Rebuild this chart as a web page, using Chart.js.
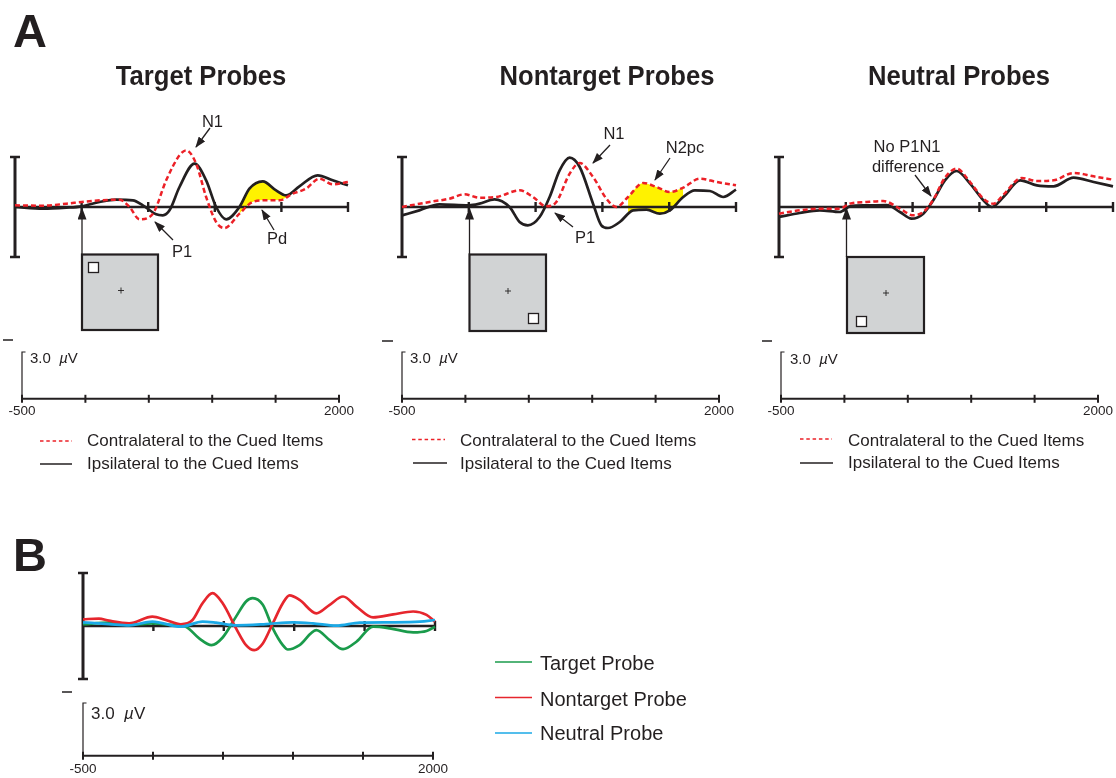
<!DOCTYPE html>
<html><head><meta charset="utf-8">
<script src="https://cdn.jsdelivr.net/npm/chart.js@4.4.1/dist/chart.umd.min.js"></script>
<style>
html,body{margin:0;padding:0;background:#fff;}
#fig{position:relative;width:1116px;height:778px;overflow:hidden;background:#fff;font-family:"Liberation Sans",Arial,Helvetica,sans-serif;color:#231f20;}
canvas{position:absolute;}
.t{position:absolute;white-space:nowrap;}
#ov{position:absolute;left:0;top:0;z-index:2;}
</style></head><body><div id="fig"></div>
<script>
// ---------------- DATA ----------------
const timeTicks = [-500, 0, 500, 1000, 1500, 2000];
const lowerTickLabels = ['-500', '', '', '', '', '2000'];
const barRange = [-3, 3];          // µV vertical scale bar
const scaleBarRange = [0, 3];      // "3.0 µV" calibration bar

// Target probes
const targetIpsiTime = [-500,-290,-115,0,135,260,385,460,560,610,660,735,848,935,1010,1085,1185,1260,1360,1460,1535,1635,1772,1885,2000];
const targetIpsi     = [0,-0.1,-0.04,0.04,0.3,0.44,0.4,0.1,-0.44,-0.5,-0.2,1.2,2.6,1.6,0,-0.74,0,1.1,1.54,1.0,0.7,1.24,1.9,1.6,1.3];
const targetContraTime = [-500,-290,-115,0,135,285,360,435,535,635,735,785,860,935,1010,1072,1185,1285,1385,1485,1585,1685,1785,1885,2000];
const targetContra     = [0.1,0.08,0.2,0.3,0.4,0.44,0,-0.74,-0.4,1.6,3.1,3.4,2.6,0.6,-0.9,-1.26,-0.4,0.3,0.4,0.4,0.8,1.1,1.7,1.36,1.5];
const pdWindow = [1185, 1545];

// Nontarget probes
const nontargetIpsiTime = [-500,-370,-220,0,80,192,305,380,442,530,605,680,755,830,930,992,1042,1130,1230,1330,1430,1505,1605,1692,1805,1905,2000];
const nontargetIpsi     = [-0.5,-0.2,0.16,0.1,0.2,0.46,0,-0.9,-1.1,-0.6,0.6,2.2,2.96,2.4,0.2,-1.1,-1.26,-0.9,-0.2,-0.16,-0.4,-0.2,0.6,1.0,0.96,0.6,1.04];
const nontargetContraTime = [-500,-295,-145,-32,80,205,380,480,580,655,755,830,930,1030,1105,1192,1305,1405,1505,1605,1730,1855,2000];
const nontargetContra     = [0,0.3,0.5,0.76,0.56,0.6,1.0,0.6,0.04,0.3,2.0,2.64,1.8,0.5,0,0.6,1.44,1.2,0.9,1.16,1.7,1.5,1.3];
const n2pcWindow = [1125, 1680];

// Neutral probes
const neutralIpsiTime = [-500,-345,-195,-45,30,155,305,405,492,580,655,742,830,930,1030,1092,1180,1305,1430,1555,1705,1855,2000];
const neutralIpsi     = [-0.6,-0.36,-0.2,-0.3,0.04,0.1,0.12,-0.3,-0.7,-0.4,0.4,1.6,2.16,1.4,0.4,0,0.6,1.6,1.3,1.24,1.76,1.5,1.24];
const neutralContraTime = [-500,-345,-195,-45,30,155,280,405,505,580,655,742,830,930,1030,1105,1180,1317,1430,1555,1705,1855,2000];
const neutralContra     = [-0.4,-0.2,-0.1,-0.1,0.2,0.3,0.36,-0.1,-0.5,-0.3,0.44,1.76,2.3,1.5,0.5,0.2,0.74,1.74,1.56,1.6,2.04,1.84,1.64];

// Panel B difference waves
const bTargetTime = [-500,-316,-173,-7,135,230,325,413,492,587,658,705,777,848,919,955,1038,1157,1252,1347,1442,1560,1679,1845,1940,2000];
const bTarget     = [0.1,0.19,0.06,0.15,0.06,-0.04,-0.7,-1.08,-0.65,0.53,1.39,1.58,1.2,-0.13,-1.08,-1.33,-1.08,-0.23,-0.8,-1.31,-0.89,-0.04,-0.13,-0.36,-0.28,-0.04];
const bNontargetTime = [-500,-387,-316,-173,-7,88,195,278,349,420,492,587,658,717,777,848,919,967,1038,1157,1252,1347,1442,1560,1703,1845,1940,2000];
const bNontarget     = [0.38,0.42,0.3,0.15,0.53,0.34,0.1,0.34,1.29,1.86,1.29,-0.13,-1.08,-1.37,-0.99,0.15,1.29,1.73,1.48,0.72,1.2,1.67,1.1,0.49,0.66,0.82,0.63,0.25];
const bNeutralTime = [-500,-316,-173,-7,195,349,444,587,800,990,1133,1299,1465,1703,1893,2000];
const bNeutral     = [0.21,0.11,0.04,0.25,-0.04,0.25,0.19,0.04,0.11,0.21,0.15,0.02,0.19,0.21,0.25,0.34];

const panelTitles = ['Target Probes', 'Nontarget Probes', 'Neutral Probes'];
const legendA = ['Contralateral to the Cued Items', 'Ipsilateral to the Cued Items'];
const legendB = ['Target Probe', 'Nontarget Probe', 'Neutral Probe'];

// ---------------- STYLE ----------------
const INK = '#231f20', RED = '#ec2027', YELLOW = '#fff200';
const GREEN = '#1a9b4b', BRED = '#e6262d', BLUE = '#1ba9e6';
const FONT = '"Liberation Sans", Arial, Helvetica, sans-serif';
const fig = document.getElementById('fig');

function pts(t, v) { return t.map((x, i) => ({x, y: v[i]})); }
function windowPts(t, v, w) { return pts(t, v).filter(p => p.x >= w[0] && p.x <= w[1]); }

const erpAxes = {
  id: 'erpAxes',
  drawAxes(chart, o) {
    const {ctx} = chart, x = chart.scales.x, y = chart.scales.y;
    ctx.save();
    ctx.strokeStyle = INK;
    const y0 = y.getPixelForValue(0);
    const xl = x.getPixelForValue(timeTicks[0]), xr = x.getPixelForValue(timeTicks[timeTicks.length - 1]);
    ctx.lineWidth = o.axisWidth;
    ctx.beginPath(); ctx.moveTo(xl, y0); ctx.lineTo(xr, y0); ctx.stroke();
    for (const t of timeTicks.slice(1)) {
      const px = x.getPixelForValue(t);
      ctx.beginPath(); ctx.moveTo(px, y0 - o.tick); ctx.lineTo(px, y0 + o.tick); ctx.stroke();
    }
    const yt = y.getPixelForValue(barRange[1]), yb = y.getPixelForValue(barRange[0]);
    ctx.lineWidth = o.barWidth;
    ctx.beginPath(); ctx.moveTo(xl, yt); ctx.lineTo(xl, yb); ctx.stroke();
    ctx.lineWidth = o.capWidth;
    ctx.beginPath();
    ctx.moveTo(xl - o.cap, yt); ctx.lineTo(xl + o.cap, yt);
    ctx.moveTo(xl - o.cap, yb); ctx.lineTo(xl + o.cap, yb);
    ctx.stroke();
    ctx.restore();
  },
  beforeDatasetsDraw(chart, args, o) { if (o.after == null) this.drawAxes(chart, o); },
  afterDatasetDraw(chart, args, o) { if (o.after != null && args.index === o.after) this.drawAxes(chart, o); }
};

const scaleBar = {
  id: 'scaleBar',
  beforeDatasetsDraw(chart, args, o) {
    const {ctx} = chart, x = chart.scales.x, y = chart.scales.y;
    ctx.save();
    ctx.strokeStyle = INK;
    const y0 = y.getPixelForValue(scaleBarRange[0]), y3 = y.getPixelForValue(scaleBarRange[1]);
    const xl = x.getPixelForValue(timeTicks[0]), xr = x.getPixelForValue(timeTicks[timeTicks.length - 1]);
    ctx.lineWidth = 2;
    ctx.beginPath(); ctx.moveTo(xl, y0); ctx.lineTo(xr, y0); ctx.stroke();
    for (const t of timeTicks) {
      const px = x.getPixelForValue(t);
      ctx.beginPath(); ctx.moveTo(px, y0 - o.tick); ctx.lineTo(px, y0 + o.tick); ctx.stroke();
    }
    ctx.lineWidth = 1.2;
    ctx.beginPath(); ctx.moveTo(xl, y0); ctx.lineTo(xl, y3); ctx.lineTo(xl + 3.5, y3); ctx.stroke();
    ctx.restore();
  }
};

function makeCanvas(left, top, w, h) {
  const c = document.createElement('canvas');
  c.width = w; c.height = h;
  c.style.left = left + 'px'; c.style.top = top + 'px';
  c.style.width = w + 'px'; c.style.height = h + 'px';
  fig.appendChild(c);
  return c;
}

function erpChart(left, top, w, h, datasets, axesOpts) {
  const c = makeCanvas(left, top, w, h);
  return new Chart(c, {
    type: 'line',
    data: {datasets},
    options: {
      responsive: false, animation: false, devicePixelRatio: 1, events: [],
      layout: {padding: 20},
      elements: {point: {radius: 0}, line: {cubicInterpolationMode: 'monotone'}},
      scales: {
        x: {type: 'linear', min: timeTicks[0], max: timeTicks[timeTicks.length - 1], display: false},
        y: {type: 'linear', min: barRange[0], max: barRange[1], display: false}
      },
      plugins: {legend: {display: false}, tooltip: {enabled: false}, erpAxes: axesOpts}
    },
    plugins: [erpAxes]
  });
}

function lowerChart(left, top, w, h, pad, tick) {
  const c = makeCanvas(left, top, w, h);
  return new Chart(c, {
    type: 'line',
    data: {datasets: []},
    options: {
      responsive: false, animation: false, devicePixelRatio: 1, events: [],
      layout: {padding: {left: 30, right: 30, top: 10, bottom: 0}},
      scales: {
        x: {type: 'linear', min: timeTicks[0], max: timeTicks[timeTicks.length - 1], display: true,
            grid: {display: false, drawTicks: false}, border: {display: false},
            afterBuildTicks: s => { s.ticks = timeTicks.map(v => ({value: v})); },
            ticks: {autoSkip: false, maxRotation: 0, padding: pad, color: INK, font: {family: FONT, size: 13.5},
                    callback: v => lowerTickLabels[timeTicks.indexOf(v)]}},
        y: {type: 'linear', min: scaleBarRange[0], max: scaleBarRange[1], display: false}
      },
      plugins: {legend: {display: false}, tooltip: {enabled: false}, scaleBar: {tick: tick}}
    },
    plugins: [scaleBar]
  });
}

const upAx = {axisWidth: 2.4, tick: 5, barWidth: 3, capWidth: 2.5, cap: 5};
const contra = (t, v) => ({label: legendA[0], data: pts(t, v), borderColor: RED, borderWidth: 2.5, borderDash: [5, 3], fill: false, clip: false, order: 0});
const ipsi = (t, v) => ({label: legendA[1], data: pts(t, v), borderColor: INK, borderWidth: 2.7, fill: false, clip: false, order: 1});

// Panel A charts
erpChart(-5, 137, 373, 140, [
  contra(targetContraTime, targetContra),
  ipsi(targetIpsiTime, targetIpsi),
  {label: 'Pd', data: windowPts(targetIpsiTime, targetIpsi, pdWindow), borderWidth: 0, borderColor: 'rgba(0,0,0,0)',
   fill: {target: 0, above: YELLOW, below: 'rgba(0,0,0,0)'}, order: 2}
], Object.assign({after: 2}, upAx));

erpChart(382, 137, 374, 140, [
  contra(nontargetContraTime, nontargetContra),
  ipsi(nontargetIpsiTime, nontargetIpsi),
  {label: 'N2pc', data: windowPts(nontargetContraTime, nontargetContra, n2pcWindow), borderWidth: 0, borderColor: 'rgba(0,0,0,0)',
   fill: {target: 1, above: YELLOW, below: 'rgba(0,0,0,0)'}, order: 2}
], Object.assign({after: 2}, upAx));

erpChart(759, 137, 374, 140, [
  contra(neutralContraTime, neutralContra),
  ipsi(neutralIpsiTime, neutralIpsi)
], Object.assign({after: null}, upAx));

// Panel B chart
erpChart(63, 553, 392, 146, [
  {label: legendB[2], data: pts(bNeutralTime, bNeutral), borderColor: BLUE, borderWidth: 2.7, clip: false, order: 0},
  {label: legendB[1], data: pts(bNontargetTime, bNontarget), borderColor: BRED, borderWidth: 2.7, clip: false, order: 1},
  {label: legendB[0], data: pts(bTargetTime, bTarget), borderColor: GREEN, borderWidth: 2.7, clip: false, order: 2}
], Object.assign({after: null}, upAx));

// Lower calibration axes
lowerChart(-8, 342, 377, 81, 4, 4);
lowerChart(372, 342, 377, 81, 4, 4);
lowerChart(751, 342, 377, 81, 4, 4);
lowerChart(53, 693, 410, 90, 5.5, 4);

// ---------------- TEXT ----------------
function txt(html, x, cy, size, o = {}) {
  const d = document.createElement('div');
  d.className = 't';
  d.innerHTML = html;
  d.style.fontSize = size + 'px';
  d.style.lineHeight = size + 'px';
  d.style.top = (cy - 0.49 * size) + 'px';
  d.style.left = x + 'px';
  if (o.bold) d.style.fontWeight = 'bold';
  let tr = '';
  if (o.center) tr += 'translateX(-50%) ';
  if (o.sx) tr += 'scaleX(' + o.sx + ')';
  if (tr) d.style.transform = tr;
  if (o.sx && !o.center) d.style.transformOrigin = 'left center';
  d.style.zIndex = 3;
  fig.appendChild(d);
}

txt('A', 13, 30, 47, {bold: true});
txt('B', 13, 554.5, 47, {bold: true});
txt(panelTitles[0], 201, 76, 28, {bold: true, center: true, sx: 0.915});
txt(panelTitles[1], 606.5, 76, 28, {bold: true, center: true, sx: 0.915});
txt(panelTitles[2], 959, 76, 28, {bold: true, center: true, sx: 0.915});

txt('N1', 212.5, 121, 16.5, {center: true});
txt('P1', 182, 251.5, 16.5, {center: true});
txt('Pd', 277, 238.5, 16.5, {center: true});
txt('N1', 614, 133.5, 16.5, {center: true});
txt('N2pc', 685, 147.5, 16.5, {center: true});
txt('P1', 585, 237.5, 16.5, {center: true});
txt('No P1N1', 907, 146, 16.5, {center: true});
txt('difference', 908, 166.5, 16.5, {center: true});

const cal = '3.0&nbsp;&nbsp;<i>µ</i>V';
txt(cal, 30, 357, 15);
txt(cal, 410, 357, 15);
txt(cal, 790, 358, 15);
txt(cal, 91, 713, 17);

txt(legendA[0], 87, 440.5, 17); txt(legendA[1], 87, 463.3, 17);
txt(legendA[0], 460, 440, 17); txt(legendA[1], 460, 463, 17);
txt(legendA[0], 848, 440, 17); txt(legendA[1], 848, 462.5, 17);
txt(legendB[0], 540, 663, 20);
txt(legendB[1], 540, 698.3, 20);
txt(legendB[2], 540, 733, 20);

// ---------------- OVERLAY (stimulus boxes, arrows, legend keys) ----------------
const ns = 'http://www.w3.org/2000/svg';
const svg = document.createElementNS(ns, 'svg');
svg.setAttribute('id', 'ov'); svg.setAttribute('width', 1116); svg.setAttribute('height', 778);
function box(x, y, w, h, sq, plus) {
  return `<rect x="${x}" y="${y}" width="${w}" height="${h}" fill="#d1d3d4" stroke="${INK}" stroke-width="2.2"/>` +
    `<rect x="${sq[0]}" y="${sq[1]}" width="10" height="10" fill="#fff" stroke="${INK}" stroke-width="1.3"/>` +
    `<path d="M${plus[0]-3},${plus[1]}h6M${plus[0]},${plus[1]-3}v6" stroke="${INK}" stroke-width="0.9"/>`;
}
function arrow(x1, y1, x2, y2, big) {
  return `<line x1="${x1}" y1="${y1}" x2="${x2}" y2="${y2}" stroke="${INK}" stroke-width="1.3" marker-end="url(#${big ? 'ahb' : 'ah'})"/>`;
}
function key(x1, x2, y, color, dash, w) {
  return `<line x1="${x1}" y1="${y}" x2="${x2}" y2="${y}" stroke="${color}" stroke-width="${w}" ${dash ? 'stroke-dasharray="3.5 2.8"' : ''}/>`;
}
svg.innerHTML =
  `<defs><marker id="ah" markerWidth="11" markerHeight="8" refX="10" refY="4" orient="auto" markerUnits="userSpaceOnUse"><path d="M0,0 L11,4 L0,8 z" fill="${INK}"/></marker>` +
  `<marker id="ahb" markerWidth="12" markerHeight="9" refX="11" refY="4.5" orient="auto" markerUnits="userSpaceOnUse"><path d="M0,0 L12,4.5 L0,9 z" fill="${INK}"/></marker></defs>` +
  box(82, 254.5, 76, 75.5, [88.5, 262.5], [121, 290.5]) +
  box(469.5, 254.5, 76.5, 76.5, [528.5, 313.5], [508, 291]) +
  box(847, 257, 77, 76, [856.5, 316.5], [886, 293]) +
  arrow(82, 254, 82, 208.5, true) +
  arrow(469.5, 254, 469.5, 208.5, true) +
  arrow(846.5, 257, 846.5, 208.5, true) +
  arrow(210, 128, 196, 147) +
  arrow(173, 240, 155, 222) +
  arrow(274, 230, 262, 210) +
  arrow(610, 145, 593, 163) +
  arrow(670, 158, 655, 180) +
  arrow(573, 227, 555, 213) +
  arrow(915, 175, 931, 196) +
  `<path d="M3,340h10M382,341h11M762,341h10M62,692h10" stroke="${INK}" stroke-width="1.3"/>` +
  key(40, 72, 441, RED, true, 1.3) + key(40, 72, 464, INK, false, 1.5) +
  key(412, 445, 439.5, RED, true, 1.3) + key(413, 447, 463, INK, false, 1.5) +
  key(800, 832, 439, RED, true, 1.3) + key(800, 833, 463, INK, false, 1.5) +
  key(495, 532, 662, GREEN, false, 1.6) + key(495, 532, 697.5, BRED, false, 1.6) + key(495, 532, 733, BLUE, false, 1.6);
fig.appendChild(svg);
</script>
</body></html>
